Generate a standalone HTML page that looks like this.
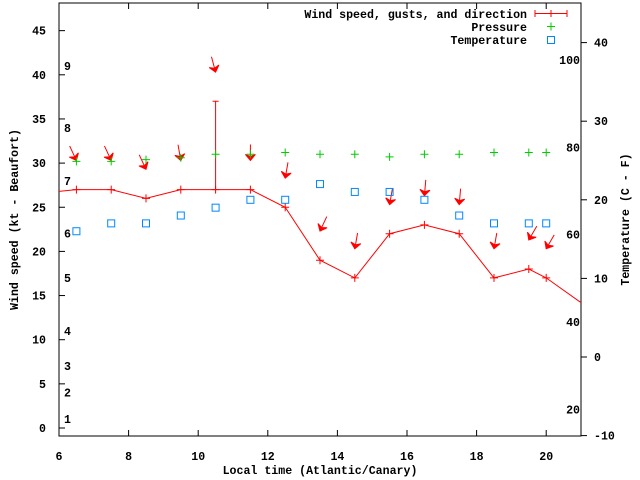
<!DOCTYPE html>
<html><head><meta charset="utf-8"><style>
html,body{margin:0;padding:0;background:#fff}
svg{display:block}
text{font-family:"Liberation Mono",monospace;font-weight:bold;font-size:11.6px;fill:#000}
</style></head><body>
<svg id="chart" width="640" height="480" viewBox="0 0 640 480">
<g id="axes"></g>
<g id="marks"></g>
<g id="legend"></g>
</svg>
<script>
const hours = [6.5,7.5,8.5,9.5,10.5,11.5,12.5,13.5,14.5,15.5,16.5,17.5,18.5,19.5,20];
const windSpeed = [27,27,26,27,27,27,25,19,17,22,23,22,17,18,17];
const windGust = [27,27,26,27,37,27,25,19,17,22,23,22,17,18,17];
const windDir = [25,25,25,10,15,0,-10,-25,-10,-10,-5,-5,-10,-30,-30];
const pressure = [30.2,30.2,30.4,30.6,31,31,31.2,31,31,30.7,31,31,31.2,31.2,31.2];
const temperature = [16,17,17,18,19,20,20,22,21,21,20,18,17,17,17];
const lineEdgeHours = [5.5,21.5];
const lineEdgeSpeed = [26.6,12.8];
const xTicks = [6,8,10,12,14,16,18,20];
const yTicks = [0,5,10,15,20,25,30,35,40,45];
const cTicks = [-10,0,10,20,30,40];
const fLabels = [20,40,60,80,100];
const beaufortLabels = [1,2,3,4,5,6,7,8,9];
const beaufortKt = [1,4,7,11,17,22,28,34,41];

const L=59,R=581,T=3,B=436;
const X=h=>L+(h-6)*(R-L)/15;
const Y=v=>428-v*8.83;
const YC=c=>357-c*7.86;
const NS='http://www.w3.org/2000/svg';
function mk(tag,attrs,parent,txt){const e=document.createElementNS(NS,tag);for(const k in attrs)e.setAttribute(k,attrs[k]);if(txt!==undefined)e.textContent=txt;parent.appendChild(e);return e;}
const ax=document.getElementById('axes'),mg=document.getElementById('marks'),lg=document.getElementById('legend');

let el=mk('rect',{x:L,y:T,width:R-L,height:B-T,fill:'none',stroke:'#000','stroke-width':1},ax);


xTicks.forEach(t=>{const x=X(t);
 mk('line',{x1:x,y1:B,x2:x,y2:B-6,stroke:'#000'},ax);
 mk('line',{x1:x,y1:T,x2:x,y2:T+6,stroke:'#000'},ax);
 el=mk('text',{x:x,y:B+24,'text-anchor':'middle'},ax,String(t));
 
 });
yTicks.forEach(t=>{const y=Y(t);
 mk('line',{x1:L,y1:y,x2:L+6,y2:y,stroke:'#000'},ax);
 el=mk('text',{x:L-13,y:y+4,'text-anchor':'end'},ax,String(t));
 
 });
cTicks.forEach(t=>{const y=YC(t);
 mk('line',{x1:R,y1:y,x2:R+6,y2:y,stroke:'#000'},ax);
 el=mk('text',{x:R+13,y:y+4,'text-anchor':'start'},ax,String(t));
 
 });
fLabels.forEach(f=>{const c=(f-32)*5/9;
 el=mk('text',{x:R-1,y:YC(c)+4,'text-anchor':'end'},ax,String(f));
 
 });
beaufortLabels.forEach((b,i)=>{
 el=mk('text',{x:64,y:Y(beaufortKt[i])+4},ax,String(b));
 
 });
el=mk('text',{x:(L+R)/2,y:474,'text-anchor':'middle'},ax,'Local time (Atlantic/Canary)');


el=mk('text',{x:18,y:(T+B)/2,'text-anchor':'middle',transform:'rotate(-90 18 '+((T+B)/2)+')'},ax,'Wind speed (kt - Beaufort)');


el=mk('text',{x:629,y:(T+B)/2,'text-anchor':'middle',transform:'rotate(-90 629 '+((T+B)/2)+')'},ax,'Temperature (C - F)');



mk('clipPath',{id:'clip'},mg);
mk('rect',{x:L,y:T,width:R-L,height:B-T},mg.lastChild);
const clipG=mk('g',{'clip-path':'url(#clip)'},mg);
const pts=[[X(lineEdgeHours[0]),Y(lineEdgeSpeed[0])]].concat(hours.map((h,i)=>[X(h),Y(windSpeed[i])])).concat([[X(lineEdgeHours[1]),Y(lineEdgeSpeed[1])]]);
el=mk('polyline',{points:pts.map(p=>p.join(',')).join(' '),fill:'none',stroke:'#f00','stroke-width':1},clipG);


function plus(x,y,col,p){mk('path',{d:`M${x-4},${y}h8M${x},${y-4}v8`,stroke:col,'stroke-width':1,fill:'none'},p);}
hours.forEach((h,i)=>{const x=X(h),y=Y(windSpeed[i]);
 const g=mk('g',{},mg);
 
 
 plus(x,y,'#f00',g);
 if(windGust[i]>windSpeed[i]){const yg=Y(windGust[i]);
  mk('path',{d:`M${x},${y}V${yg}M${x-3},${yg}h6`,stroke:'#f00',fill:'none'},g);}
 const ty=Y(windGust[i]+3.3),a=windDir[i]*Math.PI/180,len=16;
 const sx=x-Math.sin(a)*len,sy=ty-Math.cos(a)*len;
 const ux=Math.sin(a),uy=Math.cos(a),px=-uy,py=ux;
 const ar=mk('g',{},mg);
 
 
 mk('line',{x1:sx,y1:sy,x2:x,y2:ty,stroke:'#f00'},ar);
 mk('polygon',{points:`${x},${ty} ${x-ux*6+px*5},${ty-uy*6+py*5} ${x-ux*4},${ty-uy*4} ${x-ux*6-px*5},${ty-uy*6-py*5}`,fill:'#f00',stroke:'#f00','stroke-width':1},ar);
});
hours.forEach((h,i)=>{const g=mk('g',{},mg);
 
 
 plus(X(h),Y(pressure[i]),'#0c0',g);});
hours.forEach((h,i)=>{
 el=mk('rect',{x:X(h)-3.5,y:YC(temperature[i])-3.5,width:7,height:7,fill:'none',stroke:'#08f'},mg);
 
 });

el=mk('text',{x:527,y:18,'text-anchor':'end'},lg,'Wind speed, gusts, and direction');


mk('path',{d:'M535,13.5h32M535,10v7M567,10v7M551,10v7',stroke:'#f00',fill:'none'},lg);
el=mk('text',{x:527,y:31,'text-anchor':'end'},lg,'Pressure');


plus(551,26.5,'#0c0',lg);
el=mk('text',{x:527,y:44,'text-anchor':'end'},lg,'Temperature');


mk('rect',{x:547.5,y:36.5,width:7,height:7,fill:'none',stroke:'#08f'},lg);
</script>
</body></html>
